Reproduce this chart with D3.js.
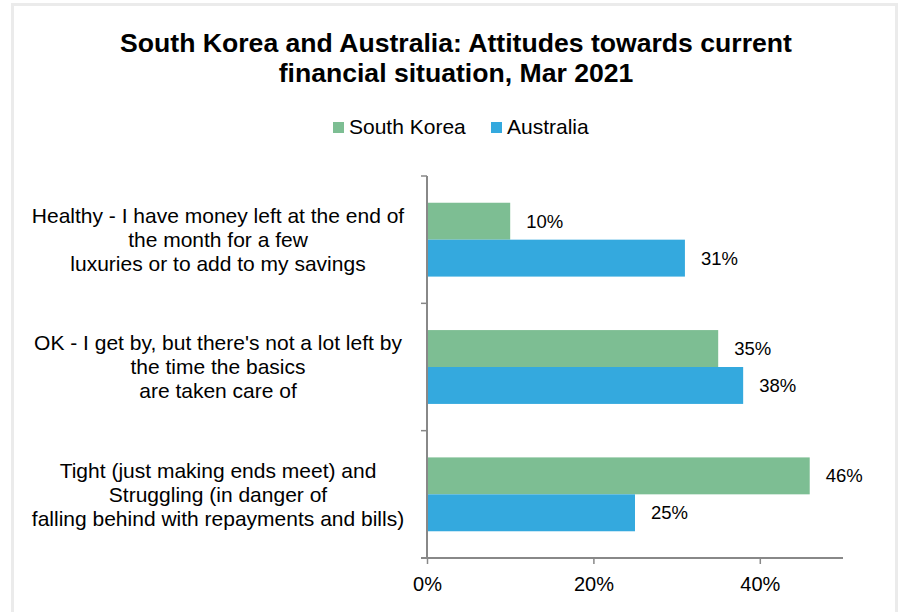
<!DOCTYPE html>
<html>
<head>
<meta charset="utf-8">
<script src="https://cdn.jsdelivr.net/npm/d3@7"></script>
<style>
  body { margin: 0; background: #fff; }
  svg { display: block; font-family: "Liberation Sans", Arial, sans-serif; }
</style>
</head>
<body>
<div id="chart"></div>
<script>
// data
const categories = [
  ["Healthy - I have money left at the end of", "the month for a few", "luxuries or to add to my savings"],
  ["OK - I get by, but there's not a lot left by", "the time the basics", "are taken care of"],
  ["Tight (just making ends meet) and", "Struggling (in danger of", "falling behind with repayments and bills)"]
];
const seriesNames = ["South Korea", "Australia"];
const southKorea = [0.10, 0.35, 0.46];
const australia = [0.31, 0.38, 0.25];
const xTicks = [0, 0.2, 0.4];
const colors = ["#7dbe93", "#34a9de"];

const W = 899, H = 612;
const margin = {top: 176, right: 56, bottom: 54, left: 427};
const width = W - margin.left - margin.right;
const height = H - margin.top - margin.bottom;

const svg = d3.select("#chart").append("svg")
  .attr("width", W)
  .attr("height", H);

// outer frame
svg.append("rect").attr("x", 0).attr("y", 0).attr("width", W).attr("height", H).attr("fill", "#fff");
svg.append("rect").attr("x", 12.5).attr("y", 4.5).attr("width", W - 15).attr("height", H + 10)
  .attr("fill", "none").attr("stroke", "#ebebeb").attr("stroke-width", 3);

// title
svg.append("text")
  .attr("text-anchor", "middle")
  .attr("font-size", 26.6).attr("font-weight", "bold").attr("fill", "#000")
  .selectAll("tspan")
  .data(["South Korea and Australia: Attitudes towards current", "financial situation, Mar 2021"])
  .join("tspan")
    .attr("x", 456)
    .attr("y", (d, i) => 52 + i * 30)
    .text(d => d);

// legend
const legend = svg.append("g").attr("font-size", 21);
const legendX = [333, 491];
seriesNames.forEach((name, i) => {
  legend.append("rect")
    .attr("x", legendX[i]).attr("y", 122)
    .attr("width", 11).attr("height", 11)
    .attr("fill", colors[i]);
  legend.append("text")
    .attr("x", legendX[i] + 16).attr("y", 134)
    .attr("fill", "#000")
    .text(name);
});

const g = svg.append("g").attr("transform", `translate(${margin.left},${margin.top})`);

// scales
const x = d3.scaleLinear().domain([0, 0.5]).range([0, width]);
const y = d3.scaleBand().domain(d3.range(categories.length)).range([0, height]);
const inner = d3.scaleBand().domain([0, 1]).range([y.bandwidth() * 0.21, y.bandwidth() * 0.79]);

const values = [southKorea, australia];

// bars
values.forEach((vals, s) => {
  g.selectAll(`.bar-${s}`)
    .data(vals)
    .join("rect")
      .attr("class", `bar-${s}`)
      .attr("x", 0)
      .attr("y", (d, i) => y(i) + inner(s))
      .attr("width", d => x(d))
      .attr("height", inner.bandwidth())
      .attr("fill", colors[s]);

  g.selectAll(`.label-${s}`)
    .data(vals)
    .join("text")
      .attr("class", `label-${s}`)
      .attr("x", d => x(d) + 16)
      .attr("y", (d, i) => y(i) + inner(s) + inner.bandwidth() / 2)
      .attr("dy", "0.35em")
      .attr("font-size", 18.5)
      .attr("fill", "#000")
      .text(d => d3.format(".0%")(d));
});

// axes
const axisColor = "#888";
const xAxis = g.append("g")
  .attr("transform", `translate(0,${height})`)
  .call(d3.axisBottom(x).tickValues(xTicks).tickFormat(d3.format(".0%")).tickSize(6).tickSizeOuter(0));
xAxis.select(".domain").attr("stroke", axisColor).attr("stroke-width", 2).attr("d", `M-6,0H${width}`);
xAxis.selectAll(".tick line").attr("stroke", axisColor).attr("stroke-width", 1.5);
xAxis.selectAll(".tick text").attr("font-size", 20).attr("fill", "#000").attr("y", 0).attr("dy", 0)
  .attr("transform", "translate(0,33)")
  .attr("font-family", "Liberation Sans, Arial, sans-serif");

const yAxis = g.append("g");
yAxis.append("line")
  .attr("x1", 0).attr("x2", 0).attr("y1", 0).attr("y2", height)
  .attr("stroke", axisColor).attr("stroke-width", 2);
yAxis.selectAll(".ytick")
  .data(d3.range(categories.length))
  .join("line")
    .attr("class", "ytick")
    .attr("x1", -6).attr("x2", 0)
    .attr("y1", d => y(d)).attr("y2", d => y(d))
    .attr("stroke", axisColor).attr("stroke-width", 1.5);

// category labels
const lineH = 24;
g.selectAll(".cat")
  .data(categories)
  .join("text")
    .attr("class", "cat")
    .attr("text-anchor", "middle")
    .attr("font-size", 21)
    .attr("fill", "#000")
    .each(function(lines, i) {
      const cy = y(i) + y.bandwidth() / 2;
      d3.select(this).selectAll("tspan")
        .data(lines)
        .join("tspan")
          .attr("x", 218 - margin.left)
          .attr("y", (d, j) => cy + (j - 1) * lineH)
          .attr("dy", "0.35em")
          .text(d => d);
    });
</script>
</body>
</html>
